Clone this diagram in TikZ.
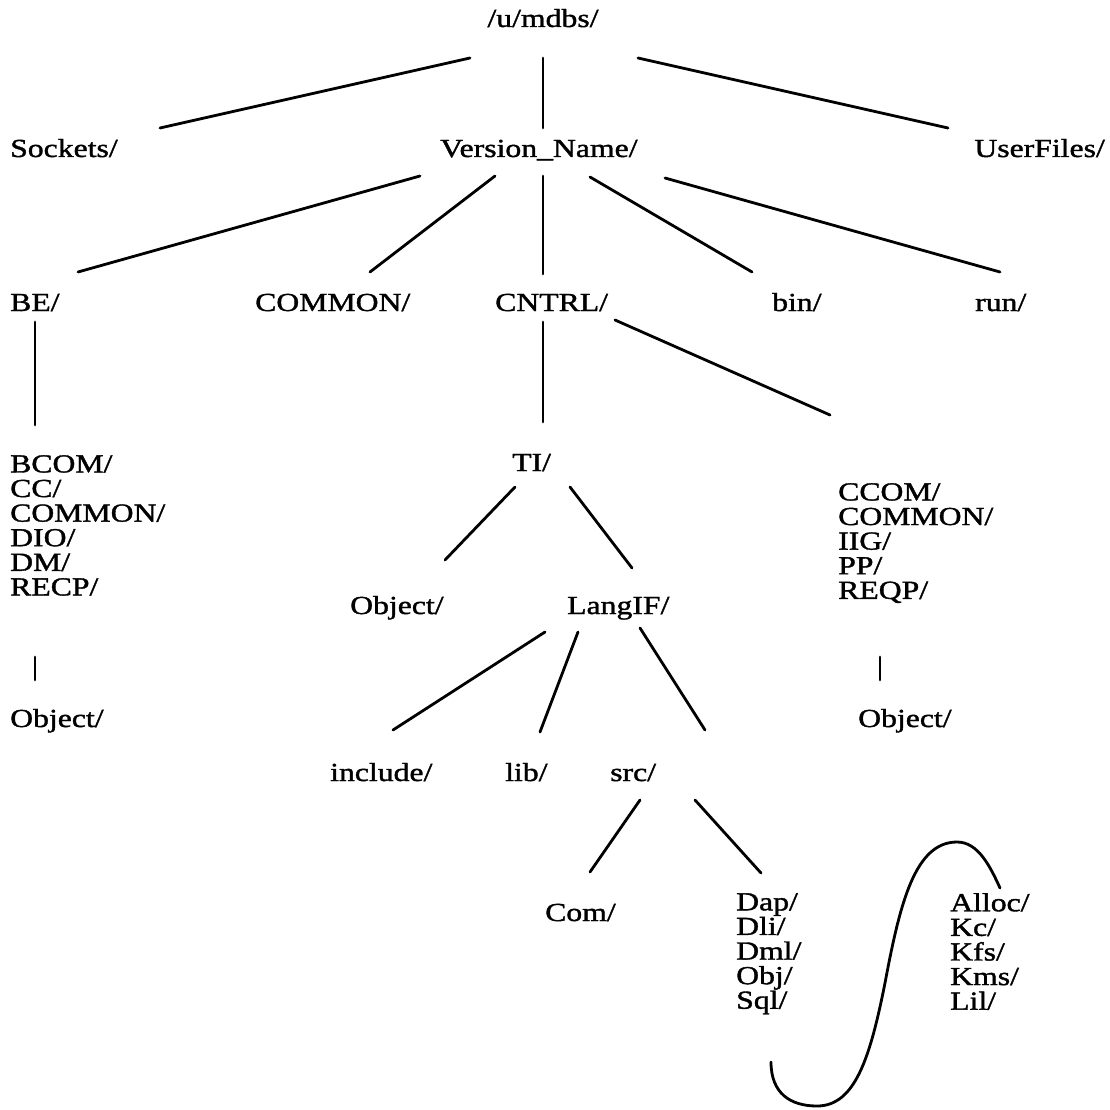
\documentclass[tikz,border=0pt]{standalone}
\usepackage{fontspec}
\setmainfont{Liberation Serif}[FakeStretch=1.22,FakeBold=1.4]
\begin{document}
\begin{tikzpicture}[x=1pt,y=-1pt,
  lbl/.style={inner sep=0pt, anchor=base west, font=\fontsize{26}{24.6}\selectfont},
  lst/.style={inner sep=0pt, anchor=north west, align=left, font=\fontsize{26}{24.6}\selectfont},
  edge/.style={line width=2.8pt, line cap=round}]
\useasboundingbox (0,0) rectangle (1110,1110);

% directory labels
\node[lbl, anchor=base] (mdbs) at (543,27) {/u/mdbs/};
\node[lbl] (sockets) at (10,157) {Sockets/};
\node[lbl] (version) at (440,157) {Version\_Name/};
\node[lbl, anchor=base east] (user) at (1105,157) {UserFiles/};
\node[lbl] (be) at (10,311) {BE/};
\node[lbl] (common) at (255,311) {COMMON/};
\node[lbl] (cntrl) at (495,311) {CNTRL/};
\node[lbl] (bin) at (772,311) {bin/};
\node[lbl] (run) at (975,311) {run/};
\node[lst] (belist) at (10,455) {BCOM/\\CC/\\COMMON/\\DIO/\\DM/\\RECP/};
\node[lbl] (beobj) at (10,727) {Object/};
\node[lbl] (ti) at (512,471) {TI/};
\node[lst] (clist) at (838,483) {CCOM/\\COMMON/\\IIG/\\PP/\\REQP/};
\node[lbl] (cobj) at (858,727) {Object/};
\node[lbl] (tiobj) at (350,614) {Object/};
\node[lbl] (langif) at (567,614) {LangIF/};
\node[lbl] (include) at (330,781) {include/};
\node[lbl] (lib) at (505,781) {lib/};
\node[lbl] (src) at (610,781) {src/};
\node[lbl] (com) at (545,921) {Com/};
\node[lst] (dlist) at (736,893) {Dap/\\Dli/\\Dml/\\Obj/\\Sql/};
\node[lst] (klist) at (950,893) {Alloc/\\Kc/\\Kfs/\\Kms/\\Lil/};

% connector end points
\coordinate (a1) at (470,58);  \coordinate (b1) at (160,128);
\coordinate (a2) at (543,58);  \coordinate (b2) at (543,128);
\coordinate (a3) at (638,58);  \coordinate (b3) at (948,128);
\coordinate (a4) at (420,176); \coordinate (b4) at (78,272);
\coordinate (a5) at (495,176); \coordinate (b5) at (370,272);
\coordinate (a6) at (543,176); \coordinate (b6) at (543,274);
\coordinate (a7) at (590,177); \coordinate (b7) at (752,272);
\coordinate (a8) at (665,178); \coordinate (b8) at (1000,272);
\coordinate (a9) at (35,322);  \coordinate (b9) at (35,425);
\coordinate (a10) at (543,322); \coordinate (b10) at (543,422);
\coordinate (a11) at (615,320); \coordinate (b11) at (830,415);
\coordinate (a12) at (515,487); \coordinate (b12) at (445,560);
\coordinate (a13) at (570,487); \coordinate (b13) at (632,568);
\coordinate (a14) at (35,657);  \coordinate (b14) at (35,680);
\coordinate (a15) at (880,657); \coordinate (b15) at (880,680);
\coordinate (a16) at (545,632); \coordinate (b16) at (393,730);
\coordinate (a17) at (578,632); \coordinate (b17) at (540,732);
\coordinate (a18) at (640,628); \coordinate (b18) at (705,730);
\coordinate (a19) at (640,800); \coordinate (b19) at (590,872);
\coordinate (a20) at (695,800); \coordinate (b20) at (761,873);
\coordinate (s0) at (771,1062); \coordinate (s4) at (1000,888);

% tree connectors
\foreach \i in {1,...,20} \draw[edge] (a\i) -- (b\i);

% link from Sql/ over to the second column
\draw[edge] (s0) .. controls (771,1093) and (790,1106) .. (817,1106)
  .. controls (855,1106) and (870,1058) .. (885,983)
  .. controls (900,903) and (915,842) .. (957,842)
  .. controls (978,842) and (990,866) .. (s4);
\end{tikzpicture}
\end{document}
